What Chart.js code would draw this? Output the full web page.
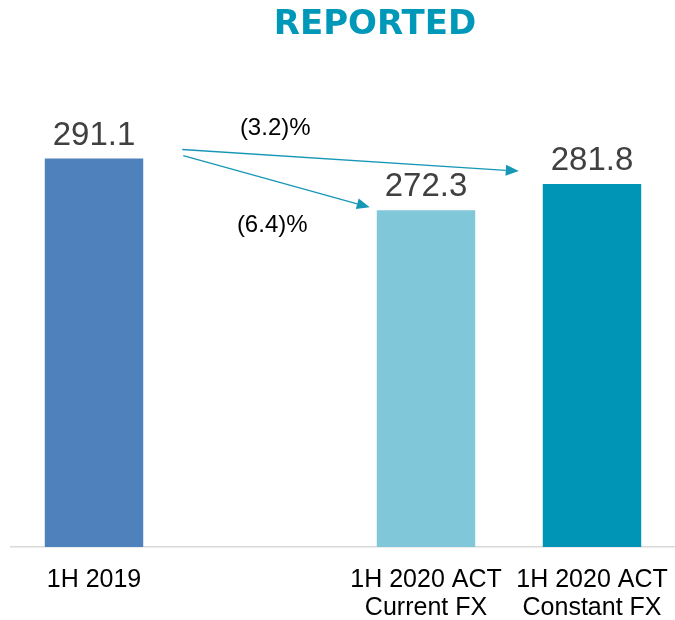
<!DOCTYPE html>
<html>
<head>
<meta charset="utf-8">
<script src="https://cdn.jsdelivr.net/npm/chart.js@4.4.1/dist/chart.umd.min.js"></script>
<style>
  html, body { margin: 0; padding: 0; background: #fff; }
  #wrap { width: 675px; height: 620px; position: relative; }
</style>
</head>
<body>
<div id="wrap"><canvas id="reportChart"></canvas></div>
<script>
// Данные графика
const categories = ['1H 2019', '', ['1H 2020 ACT', 'Current FX'], ['1H 2020 ACT', 'Constant FX']];
const values = [291.1, null, 272.3, 281.8];
const valueLabels = ['291.1', '', '272.3', '281.8'];
const barColors = ['#4f81bd', '#4f81bd', '#80c7d9', '#0095b6'];
const changeLabels = ['(3.2)%', '(6.4)%'];
const changeTargets = [3, 2]; // к какому столбцу ведёт стрелка
const chartTitle = 'REPORTED';

const arrowColor = '#1797b6';

function drawArrow(ctx, x1, y1, x2, y2) {
    const ang = Math.atan2(y2 - y1, x2 - x1);
    const len = 13, half = 5.5;
    ctx.save();
    ctx.strokeStyle = arrowColor;
    ctx.fillStyle = arrowColor;
    ctx.lineWidth = 1.3;
    ctx.beginPath();
    ctx.moveTo(x1, y1);
    ctx.lineTo(x2 - len * Math.cos(ang), y2 - len * Math.sin(ang));
    ctx.stroke();
    ctx.beginPath();
    ctx.moveTo(x2, y2);
    ctx.lineTo(x2 - len * Math.cos(ang) + half * Math.sin(ang), y2 - len * Math.sin(ang) - half * Math.cos(ang));
    ctx.lineTo(x2 - len * Math.cos(ang) - half * Math.sin(ang), y2 - len * Math.sin(ang) + half * Math.cos(ang));
    ctx.closePath();
    ctx.fill();
    ctx.restore();
}

// Подписи значений, стрелки и заголовок
const annotatePlugin = {
    id: 'annotate',
    afterDatasetsDraw(chart) {
        const ctx = chart.ctx;
        const meta = chart.getDatasetMeta(0);
        const yScale = chart.scales.y;

        ctx.save();
        ctx.font = '33px "Liberation Sans", Arial, sans-serif';
        ctx.fillStyle = '#404040';
        ctx.textAlign = 'center';
        ctx.textBaseline = 'alphabetic';
        meta.data.forEach((bar, i) => {
            if (values[i] == null) return;
            ctx.fillText(valueLabels[i], bar.x, bar.y - 14);
        });

        // заголовок
        ctx.font = 'bold 34px "DejaVu Sans", sans-serif';
        ctx.fillStyle = '#0098b8';
        ctx.fillText(chartTitle, (chart.chartArea.left + chart.chartArea.right) / 2 + 32, 34);
        ctx.restore();

        // стрелки от первого столбца
        const src = meta.data[0];
        const sx = src.x + src.width / 2;
        const sy = src.y;
        const t1 = meta.data[changeTargets[0]];
        const t2 = meta.data[changeTargets[1]];
        drawArrow(ctx, sx + 39, sy - 9, t1.x - t1.width / 2 - 24, yScale.getPixelForValue(values[changeTargets[0]]) - 13);
        drawArrow(ctx, sx + 40, sy - 3, t2.x - t2.width / 2 - 7, yScale.getPixelForValue(values[changeTargets[1]]) - 3);

        ctx.save();
        ctx.font = '24px "Liberation Sans", Arial, sans-serif';
        ctx.fillStyle = '#000';
        ctx.textAlign = 'center';
        ctx.fillText(changeLabels[0], sx + 132, sy - 24);
        ctx.fillText(changeLabels[1], sx + 129, sy + 73);
        ctx.restore();
    }
};

const ctx = document.getElementById('reportChart').getContext('2d');
new Chart(ctx, {
    type: 'bar',
    data: {
        labels: categories,
        datasets: [{
            data: values,
            backgroundColor: barColors,
            borderWidth: 0,
            barPercentage: 0.593,
            categoryPercentage: 1
        }]
    },
    options: {
        responsive: true,
        maintainAspectRatio: false,
        animation: false,
        layout: { padding: { left: 11, right: -10, top: 134, bottom: -13 } },
        plugins: {
            legend: { display: false },
            title: { display: false },
            tooltip: { enabled: false }
        },
        scales: {
            y: {
                display: false,
                min: 150,
                max: 300
            },
            x: {
                grid: { display: false },
                border: { display: true, color: '#d9d9d9', width: 1.5 },
                // подписи не должны сужать область графика
                afterFit(scale) {
                    scale.paddingLeft = 0;
                    scale.paddingRight = 0;
                },
                ticks: {
                    color: '#000',
                    padding: 11,
                    maxRotation: 0,
                    autoSkip: false,
                    font: { family: '"Liberation Sans", Arial, sans-serif', size: 25, lineHeight: 1.12 }
                }
            }
        }
    },
    plugins: [annotatePlugin]
});
</script>
</body>
</html>
